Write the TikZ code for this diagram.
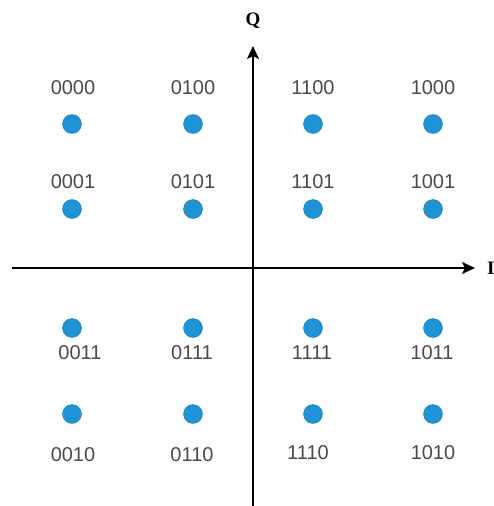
\documentclass[tikz,border=0pt]{standalone}
\usepackage{fontspec}
\setmainfont{Liberation Sans}
\newfontfamily\axisfont{Liberation Serif}
\usetikzlibrary{arrows.meta}
\definecolor{dotblue}{HTML}{1E93D6}
\definecolor{lbl}{HTML}{4A4A4A}
\begin{document}
\begin{tikzpicture}[x=1pt,y=-1pt,
  pt/.style={circle,fill=dotblue,draw=dotblue!85!black,line width=0.4pt,minimum size=19pt,inner sep=0pt},
  lab/.style={text=lbl,inner sep=0pt,font=\fontsize{20}{20}\selectfont},
  axis/.style={line width=1.5pt,-{Stealth[length=13pt,width=12pt,inset=3pt]}},
  axlab/.style={inner sep=0pt,font=\axisfont\bfseries\fontsize{19}{19}\selectfont}]
\useasboundingbox (0,0) rectangle (494,506);
\clip (0,0) rectangle (494,506);
% axes
\coordinate (xs) at (12,268);
\coordinate (xe) at (475,268);
\coordinate (ys) at (253,506);
\coordinate (ye) at (253,46);
\draw[axis] (xs) -- (xe);
\draw[axis] (ys) -- (ye);
\node[axlab] (Q) at (253,21) {Q};
\node[axlab,anchor=west] (I) at (487,268) {I};
% dots
\node[pt] (p0000) at (72,124) {};
\node[pt] (p0100) at (193,124) {};
\node[pt] (p1100) at (313,124) {};
\node[pt] (p1000) at (433,124) {};
\node[pt] (p0001) at (72,209) {};
\node[pt] (p0101) at (193,209) {};
\node[pt] (p1101) at (313,209) {};
\node[pt] (p1001) at (433,209) {};
\node[pt] (p0011) at (72,328) {};
\node[pt] (p0111) at (193,328) {};
\node[pt] (p1111) at (313,328) {};
\node[pt] (p1011) at (433,328) {};
\node[pt] (p0010) at (72,414) {};
\node[pt] (p0110) at (193,414) {};
\node[pt] (p1110) at (313,414) {};
\node[pt] (p1010) at (433,414) {};
% labels
\node[lab] (l0000) at (73,88) {0000};
\node[lab] (l0100) at (193,88) {0100};
\node[lab] (l1100) at (313,88) {1100};
\node[lab] (l1000) at (433,88) {1000};
\node[lab] (l0001) at (73,182) {0001};
\node[lab] (l0101) at (193,182) {0101};
\node[lab] (l1101) at (313,182) {1101};
\node[lab] (l1001) at (433,182) {1001};
\node[lab] (l0011) at (80,353) {0011};
\node[lab] (l0111) at (192,353) {0111};
\node[lab] (l1111) at (312,353) {1111};
\node[lab] (l1011) at (432,353) {1011};
\node[lab] (l0010) at (73,455) {0010};
\node[lab] (l0110) at (192,455) {0110};
\node[lab] (l1110) at (308,453) {1110};
\node[lab] (l1010) at (433,453) {1010};
\end{tikzpicture}
\end{document}
